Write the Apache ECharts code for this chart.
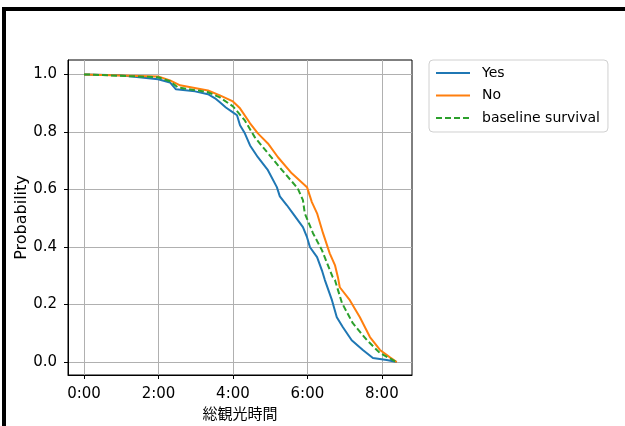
<!DOCTYPE html>
<html>
<head>
<meta charset="utf-8">
<script src="https://cdn.jsdelivr.net/npm/echarts@6/dist/echarts.min.js"></script>
<style>
  html, body { margin: 0; padding: 0; background: #fff; }
  #chart { width: 625px; height: 426px; }
</style>
</head>
<body>
<div id="chart"></div>
<script>
// Survival curves (hours, probability)
const yesCurve = [
    [0, 1.0], [0.97, 0.997], [1.99, 0.983], [2.31, 0.972], [2.47, 0.948], [2.98, 0.941],
    [3.33, 0.931], [3.52, 0.917], [3.65, 0.903], [3.81, 0.885], [4.0, 0.868], [4.11, 0.858],
    [4.19, 0.823], [4.32, 0.795], [4.46, 0.753], [4.67, 0.712], [4.94, 0.667], [5.18, 0.608],
    [5.26, 0.576], [5.45, 0.545], [5.61, 0.517], [5.88, 0.469], [5.99, 0.434], [6.07, 0.399],
    [6.26, 0.365], [6.39, 0.319], [6.47, 0.285], [6.66, 0.215], [6.79, 0.156], [6.95, 0.122],
    [7.19, 0.076], [7.49, 0.042], [7.76, 0.014], [8.13, 0.007], [8.40, 0.0]
];
const noCurve = [
    [0, 1.0], [1.99, 0.993], [2.31, 0.979], [2.58, 0.962], [3.33, 0.944], [3.65, 0.927],
    [4.0, 0.906], [4.19, 0.882], [4.46, 0.830], [4.67, 0.795], [4.94, 0.760], [5.21, 0.712],
    [5.58, 0.656], [5.99, 0.608], [6.07, 0.576], [6.12, 0.556], [6.26, 0.517], [6.42, 0.448],
    [6.60, 0.378], [6.74, 0.337], [6.82, 0.295], [6.87, 0.260], [7.14, 0.215], [7.41, 0.156],
    [7.68, 0.087], [7.95, 0.042], [8.21, 0.017], [8.40, 0.0]
];
const baselineCurve = [
    [0, 1.0], [1.99, 0.99], [2.31, 0.976], [2.52, 0.955], [3.33, 0.938], [3.65, 0.92],
    [4.0, 0.889], [4.32, 0.840], [4.59, 0.781], [4.94, 0.726], [5.32, 0.667], [5.74, 0.604],
    [5.88, 0.563], [5.93, 0.517], [6.15, 0.448], [6.39, 0.389], [6.68, 0.295], [6.74, 0.285],
    [6.93, 0.205], [7.22, 0.135], [7.60, 0.076], [7.95, 0.031], [8.30, 0.007], [8.40, 0.0]
];
const seriesNames = ['Yes', 'No', 'baseline survival'];
const xTicks = [0, 2, 4, 6, 8];
const yTicks = [0, 0.2, 0.4, 0.6, 0.8, 1.0];

const font = "'DejaVu Sans', 'Noto Sans CJK JP', sans-serif";
const chart = echarts.init(document.getElementById('chart'));

chart.setOption({
    animation: false,
    backgroundColor: '#fff',
    graphic: [
        // black frame around the figure
        {type: 'rect', shape: {x: 2, y: 7, width: 640, height: 4}, style: {fill: '#000'}},
        {type: 'rect', shape: {x: 2, y: 7, width: 4, height: 430}, style: {fill: '#000'}}
    ],
    grid: {
        left: 68, right: 213, top: 60, bottom: 51,
        outerBoundsMode: 'none',
        containLabel: false,
        show: true, borderColor: '#000', borderWidth: 1, backgroundColor: 'transparent'
    },
    legend: {
        orient: 'vertical',
        left: 429, top: 60,
        padding: [6, 8, 7, 6],
        itemWidth: 34, itemHeight: 14, itemGap: 8.5,
        itemStyle: {opacity: 0},
        backgroundColor: '#fff',
        borderColor: '#d0d0d0', borderWidth: 1, borderRadius: 4,
        textStyle: {fontFamily: font, fontSize: 14, color: '#000', padding: [0, 0, 0, 7]},
        data: seriesNames
    },
    xAxis: {
        type: 'value',
        min: -0.43, max: 8.81,
        name: '総観光時間',
        nameLocation: 'middle', nameGap: 33,
        nameMoveOverlap: false,
        nameTextStyle: {fontFamily: font, fontSize: 15, color: '#000'},
        axisLine: {onZero: false, lineStyle: {color: '#000'}},
        axisTick: {show: true, length: 4, customValues: xTicks, lineStyle: {color: '#000'}},
        axisLabel: {
            customValues: xTicks, margin: 12,
            fontFamily: font, fontSize: 15, color: '#000',
            formatter: v => v + ':00'
        },
        splitLine: {show: true, lineStyle: {color: '#b0b0b0', width: 1}}
    },
    yAxis: {
        type: 'value',
        min: -0.045, max: 1.05,
        name: 'Probability',
        nameLocation: 'middle', nameGap: 38,
        nameMoveOverlap: false,
        nameTextStyle: {fontFamily: font, fontSize: 16, color: '#000'},
        axisLine: {show: true, onZero: false, lineStyle: {color: '#000'}},
        axisTick: {show: true, length: 4, customValues: yTicks, lineStyle: {color: '#000'}},
        axisLabel: {
            customValues: yTicks, margin: 11,
            fontFamily: font, fontSize: 15, color: '#000',
            formatter: v => v.toFixed(1)
        },
        splitLine: {show: true, lineStyle: {color: '#b0b0b0', width: 1}}
    },
    series: [
        {name: seriesNames[0], type: 'line', data: yesCurve, symbol: 'none',
         lineStyle: {color: '#1f77b4', width: 2}, itemStyle: {color: '#1f77b4'}},
        {name: seriesNames[1], type: 'line', data: noCurve, symbol: 'none',
         lineStyle: {color: '#ff7f0e', width: 2}, itemStyle: {color: '#ff7f0e'}},
        {name: seriesNames[2], type: 'line', data: baselineCurve, symbol: 'none',
         lineStyle: {color: '#2ca02c', width: 2, type: [6, 3]}, itemStyle: {color: '#2ca02c'}}
    ]
});
</script>
</body>
</html>
